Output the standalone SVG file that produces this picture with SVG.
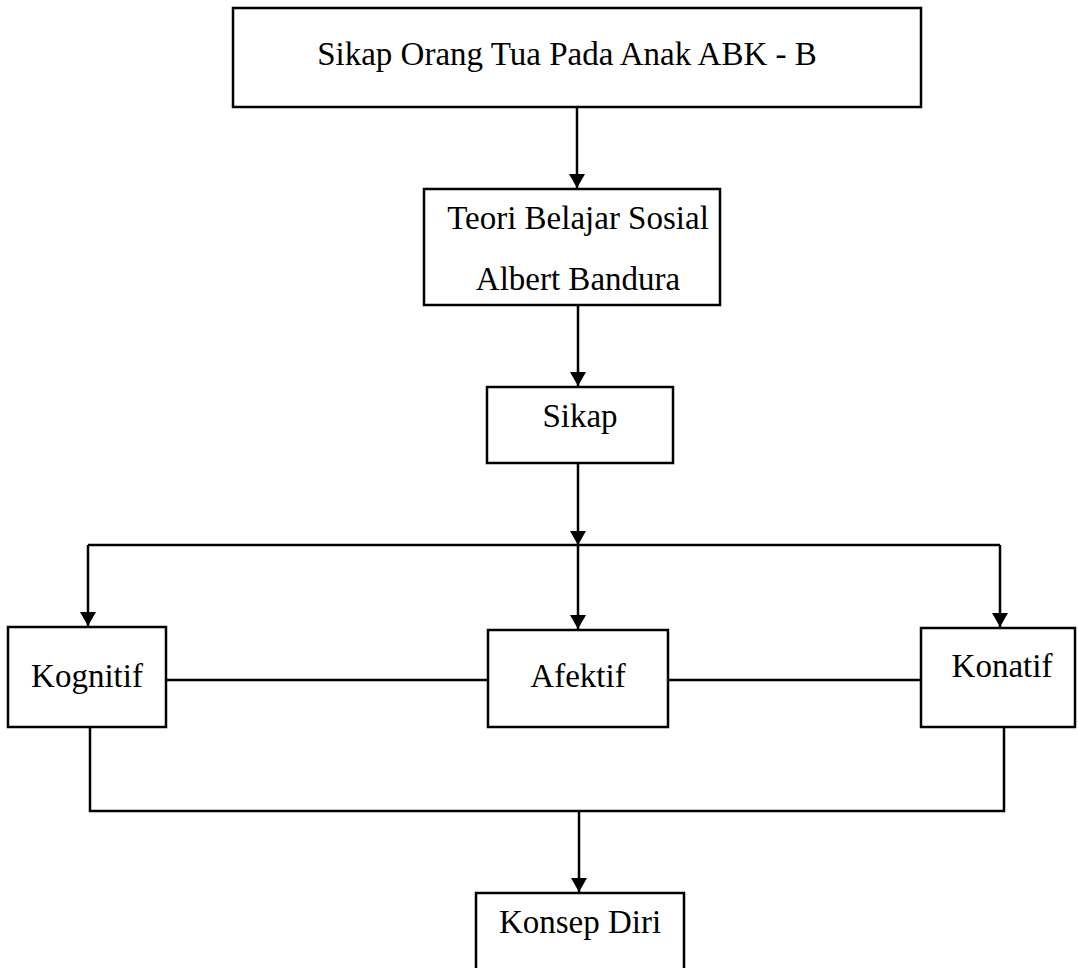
<svg xmlns="http://www.w3.org/2000/svg" width="1078" height="968" viewBox="0 0 1078 968">
<style>
.box{fill:#fff;stroke:#000;stroke-width:2.5}
.t{font-family:"Liberation Serif","Times New Roman",serif;font-size:33px;fill:#000;text-anchor:middle}
.c{fill:none;stroke:#000;stroke-width:2.5}
.a{marker-end:url(#ah)}
</style>
<defs>
<marker id="ah" markerUnits="userSpaceOnUse" markerWidth="14" markerHeight="16" refX="14" refY="8" orient="auto" viewBox="0 0 14 16">
<path d="M0,0 L14,8 L0,16 Z" fill="#000"/>
</marker>
</defs>
<rect width="1078" height="968" fill="#fff"/>
<g id="connectors">
<path class="c a" d="M577,107 V188"/>
<path class="c a" d="M578,305 V386"/>
<path class="c a" d="M578,463 V545"/>
<path class="c a" d="M88,545 V626"/>
<path class="c a" d="M1000,545 V627"/>
<path class="c" d="M88,545 H1000"/>
<path class="c a" d="M578,545 V629"/>
<path class="c" d="M166,680 H488"/>
<path class="c" d="M668,680 H921"/>
<path class="c" d="M90,727 V811 H1004 V727"/>
<path class="c a" d="M579,811 V892"/>
</g>
<g id="n1"><rect class="box" x="233" y="8" width="688" height="99"/><text class="t" x="567" y="65">Sikap Orang Tua Pada Anak ABK - B</text></g>
<g id="n2"><rect class="box" x="424" y="189" width="296" height="116"/><text class="t" x="578" y="229">Teori Belajar Sosial</text><text class="t" x="578" y="290">Albert Bandura</text></g>
<g id="n3"><rect class="box" x="487" y="387" width="186" height="76"/><text class="t" x="580" y="427">Sikap</text></g>
<g id="n4"><rect class="box" x="8" y="627" width="158" height="100"/><text class="t" x="87" y="687">Kognitif</text></g>
<g id="n5"><rect class="box" x="488" y="630" width="180" height="97"/><text class="t" x="578" y="687">Afektif</text></g>
<g id="n6"><rect class="box" x="921" y="628" width="154" height="99"/><text class="t" x="1002" y="677">Konatif</text></g>
<g id="n7"><rect class="box" x="476" y="893" width="208" height="90"/><text class="t" x="580" y="933">Konsep Diri</text></g>
</svg>
